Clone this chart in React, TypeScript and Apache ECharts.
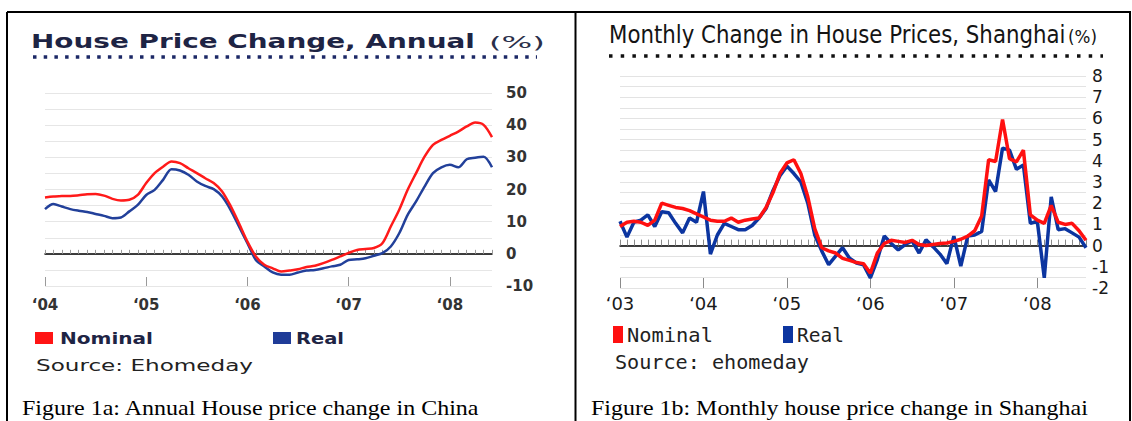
import React, { useEffect, useRef } from "react";
import * as echarts from "echarts";

// ---------- Figure 1a: annual house price change in China (%) ----------
const annualTitle = "House Price Change, Annual";
const annualStartYear = 2004;
const annualNominal = [
  17.5, 17.8, 18.0, 18.0, 18.2, 18.5, 18.6, 18.1, 17.1, 16.6, 16.8, 18.3,
  22.0, 25.1, 27.1, 28.7, 28.2, 26.6, 25.1, 23.5, 22.0, 19.4, 14.9, 9.5,
  3.8, -0.8, -3.4, -4.5, -5.5, -5.2, -4.8, -4.1, -3.7, -2.9, -1.9, -0.8,
  0.3, 1.2, 1.5, 1.8, 3.3, 8.5, 13.7, 19.9, 25.1, 30.2, 33.9, 35.4,
  36.7, 38.0, 39.6, 40.8, 40.1, 36.3,
];
const annualReal = [
  13.9, 15.5, 14.7, 13.9, 13.4, 13.0, 12.4, 11.8, 11.1, 11.3, 13.2, 15.2,
  18.3, 19.9, 23.0, 26.3, 25.9, 24.6, 22.5, 21.1, 20.1, 17.8, 13.7, 8.5,
  3.3, -1.9, -3.9, -5.8, -6.5, -6.5, -5.8, -5.2, -5.0, -4.5, -3.9, -3.4,
  -1.9, -1.7, -1.4, -0.6, 0.2, 2.3, 6.4, 12.1, 16.3, 20.9, 25.1, 26.9,
  27.7, 26.9, 29.4, 29.9, 30.2, 26.9,
];

// ---------- Figure 1b: monthly house price change in Shanghai (%) ----------
const monthlyTitle = "Monthly Change in House Prices, Shanghai";
const monthlyStartYear = 2003;
const monthlyNominal = [
  0.9, 1.1, 1.15, 1.1, 0.95, 1.2, 2.0, 1.9, 1.8, 1.75, 1.65, 1.5,
  1.35, 1.2, 1.15, 1.15, 1.3, 1.1, 1.2, 1.25, 1.3, 1.8, 2.5, 3.4,
  3.9, 4.05, 3.4, 2.3, 0.8, -0.1, -0.25, -0.35, -0.6, -0.7, -0.8, -0.85,
  -1.3, -0.35, 0.1, 0.25, 0.2, 0.15, 0.25, 0.05, 0.0, 0.05, 0.1, 0.12,
  0.2, 0.3, 0.45, 0.7, 1.4, 4.05, 3.97, 5.95, 4.1, 3.95, 4.5, 1.45,
  1.2, 1.05, 1.9, 1.1, 1.0, 1.05, 0.7, 0.25,
];
const monthlyReal = [
  1.15, 0.4, 1.1, 1.2, 1.45, 0.9, 1.6, 1.55, 1.05, 0.6, 1.3, 1.1,
  2.55, -0.4, 0.5, 1.05, 0.9, 0.75, 0.75, 0.95, 1.3, 1.75, 2.6, 3.3,
  3.75, 3.4, 3.0, 2.0, 0.5, -0.25, -0.9, -0.5, -0.1, -0.6, -0.82, -0.9,
  -1.52, -0.66, 0.45, 0.1, -0.2, 0.05, 0.22, -0.35, 0.27, -0.05, -0.4, -0.85,
  0.45, -0.97, 0.45, 0.5, 0.67, 3.1, 2.55, 4.6, 4.5, 3.6, 3.8, 1.05,
  1.15, -1.52, 2.3, 0.75, 0.8, 0.6, 0.4, -0.1,
];

const seriesNames = ["Nominal", "Real"];
const sources = ["Source: Ehomeday", "Source: ehomeday"];
const captions = [
  "Figure 1a: Annual House price change in China",
  "Figure 1b: Monthly house price change in Shanghai",
];

const MONTHS = ["Jan", "Feb", "Mar", "Apr", "May", "Jun", "Jul", "Aug", "Sep", "Oct", "Nov", "Dec"];

function makeMonths(startYear: number, count: number): string[] {
  const out: string[] = [];
  for (let i = 0; i < count; i++) {
    out.push(`${MONTHS[i % 12]} ${startYear + Math.floor(i / 12)}`);
  }
  return out;
}

const yearLabel = (v: string) => (v.startsWith("Jan") ? "\u2018" + v.slice(-2) : "");

let measureCtx: CanvasRenderingContext2D | null = null;
function fitText(text: string, x: number, y: number, width: number, font: string, fill: string) {
  if (!measureCtx) measureCtx = document.createElement("canvas").getContext("2d");
  let sx = 1;
  if (measureCtx) {
    measureCtx.font = font;
    const w = measureCtx.measureText(text).width;
    if (w > 0) sx = width / w;
  }
  return {
    type: "text",
    x,
    y,
    scaleX: sx,
    silent: true,
    style: { text, font, fill, textAlign: "left", textVerticalAlign: "middle" },
  };
}

function xAxesFor(
  gridIndex: number,
  cats: string[],
  minorLen: number,
  majorLen: number,
  tickColor: string,
  label: any
) {
  return [
    {
      type: "category",
      gridIndex,
      data: cats,
      boundaryGap: false,
      position: "bottom",
      axisLine: { onZero: true, lineStyle: { color: "#000", width: 1.5 } },
      axisTick: { show: true, inside: true, length: minorLen, interval: 0, lineStyle: { color: tickColor, width: 1 } },
      axisLabel: { show: false },
      splitLine: { show: false },
      z: 3,
    },
    {
      type: "category",
      gridIndex,
      data: cats,
      boundaryGap: false,
      position: "bottom",
      axisLine: { show: false, onZero: true },
      axisTick: {
        show: true,
        inside: true,
        length: majorLen,
        interval: (i: number) => i % 12 === 0,
        lineStyle: { color: tickColor, width: 1 },
      },
      axisLabel: { show: false },
      splitLine: { show: false },
    },
    {
      type: "category",
      gridIndex,
      data: cats,
      boundaryGap: false,
      position: "bottom",
      axisLine: { show: false, onZero: false },
      axisTick: { show: false },
      axisLabel: { interval: (i: number) => i % 12 === 0, formatter: yearLabel, ...label },
      splitLine: { show: false },
    },
  ];
}

function buildOption() {
  const annualCats = makeMonths(annualStartYear, annualNominal.length);
  const monthlyCats = makeMonths(monthlyStartYear, monthlyNominal.length);

  const graphics: any[] = [
    // table borders
    { type: "line", silent: true, shape: { x1: 7, y1: 12, x2: 1131, y2: 12 }, style: { stroke: "#000", lineWidth: 2 } },
    { type: "line", silent: true, shape: { x1: 7, y1: 12, x2: 7, y2: 421 }, style: { stroke: "#000", lineWidth: 2 } },
    { type: "line", silent: true, shape: { x1: 575.5, y1: 12, x2: 575.5, y2: 421 }, style: { stroke: "#000", lineWidth: 2 } },
    { type: "line", silent: true, shape: { x1: 1130, y1: 12, x2: 1130, y2: 421 }, style: { stroke: "#000", lineWidth: 2 } },

    // left title
    fitText(annualTitle, 31, 41, 444, 'bold 20px "DejaVu Sans"', "#1e2444"),
    fitText("(%)", 489, 43, 56, '15px "DejaVu Sans"', "#2a2f4a"),
    {
      type: "line",
      silent: true,
      shape: { x1: 33, y1: 57, x2: 537, y2: 57 },
      style: { stroke: "#1c2866", lineWidth: 3.5, lineDash: [3.5, 7.2] },
    },
    // right title
    fitText(monthlyTitle, 609, 34, 457, '25px "DejaVu Sans"', "#141414"),
    fitText("(%)", 1068, 37, 29, '17px "DejaVu Sans"', "#141414"),
    {
      type: "line",
      silent: true,
      shape: { x1: 609, y1: 56, x2: 1103, y2: 56 },
      style: { stroke: "#111", lineWidth: 3.5, lineDash: [3.5, 8.2] },
    },

    // left legend + source
    { type: "rect", silent: true, shape: { x: 35, y: 332, width: 18, height: 12 }, style: { fill: "#ff1414" } },
    fitText(seriesNames[0], 60, 339, 93, 'bold 15px "DejaVu Sans"', "#1e2444"),
    { type: "rect", silent: true, shape: { x: 273, y: 332, width: 18, height: 12 }, style: { fill: "#1f3c98" } },
    fitText(seriesNames[1], 296, 339, 48, 'bold 15px "DejaVu Sans"', "#1e2444"),
    fitText(sources[0], 36, 366, 217, '15px "DejaVu Sans"', "#222"),

    // right legend + source
    { type: "rect", silent: true, shape: { x: 613, y: 326, width: 10, height: 17 }, style: { fill: "#ff1010" } },
    fitText(seriesNames[0], 627, 335, 86, '20px "DejaVu Sans Mono"', "#222"),
    { type: "rect", silent: true, shape: { x: 783, y: 326, width: 10, height: 17 }, style: { fill: "#0c35a0" } },
    fitText(seriesNames[1], 797, 335, 47, '20px "DejaVu Sans Mono"', "#222"),
    fitText(sources[1], 615, 362, 194, '20px "DejaVu Sans Mono"', "#222"),

    // captions
    fitText(captions[0], 22, 408, 458, '21px "Liberation Serif"', "#000"),
    fitText(captions[1], 591, 408, 497, '21px "Liberation Serif"', "#000"),
  ];

  return {
    animation: false,
    backgroundColor: "#fff",
    grid: [
      { left: 45, top: 93, width: 447, height: 193, containLabel: false },
      { left: 620, top: 76, width: 466, height: 212, containLabel: false },
    ],
    xAxis: [
      ...xAxesFor(0, annualCats, 4, 9, "#9a9a9a", {
        margin: 11,
        color: "#333",
        fontFamily: "DejaVu Sans",
        fontWeight: "bold",
        fontSize: 15,
      }),
      ...xAxesFor(1, monthlyCats, 6, 10, "#8a8a8a", {
        margin: 6,
        color: "#1a1a1a",
        fontFamily: "DejaVu Sans",
        fontSize: 18,
      }),
    ],
    yAxis: [
      {
        type: "value",
        gridIndex: 0,
        position: "right",
        min: -10,
        max: 50,
        interval: 5,
        axisLine: { show: false },
        axisTick: { show: false },
        splitLine: { show: true, lineStyle: { color: "#e6e6e6", width: 1 } },
        axisLabel: {
          formatter: (v: number) => (v % 10 === 0 ? String(v) : ""),
          margin: 14,
          color: "#333",
          fontFamily: "DejaVu Sans",
          fontWeight: "bold",
          fontSize: 15,
        },
      },
      {
        type: "value",
        gridIndex: 1,
        position: "right",
        min: -2,
        max: 8,
        interval: 0.5,
        axisLine: { show: false },
        axisTick: { show: false },
        splitLine: { show: true, lineStyle: { color: "#e3e3e3", width: 1 } },
        axisLabel: {
          formatter: (v: number) => (Number.isInteger(v) ? String(v) : ""),
          margin: 6,
          color: "#1a1a1a",
          fontFamily: "DejaVu Sans",
          fontSize: 17,
        },
      },
    ],
    series: [
      {
        name: seriesNames[1],
        type: "line",
        xAxisIndex: 0,
        yAxisIndex: 0,
        data: annualReal,
        symbol: "none",
        smooth: 0.3,
        lineStyle: { color: "#22409a", width: 2.5 },
        z: 4,
      },
      {
        name: seriesNames[0],
        type: "line",
        xAxisIndex: 0,
        yAxisIndex: 0,
        data: annualNominal,
        symbol: "none",
        smooth: 0.3,
        lineStyle: { color: "#ff1a1a", width: 2.5 },
        z: 5,
      },
      {
        name: seriesNames[1],
        type: "line",
        xAxisIndex: 3,
        yAxisIndex: 1,
        data: monthlyReal,
        symbol: "none",
        lineStyle: { color: "#0c35a0", width: 3.5 },
        z: 4,
      },
      {
        name: seriesNames[0],
        type: "line",
        xAxisIndex: 3,
        yAxisIndex: 1,
        data: monthlyNominal,
        symbol: "none",
        lineStyle: { color: "#ff1010", width: 3.5 },
        z: 5,
      },
    ],
    graphic: graphics,
  };
}

export default function App() {
  const ref = useRef<HTMLDivElement>(null);
  useEffect(() => {
    if (!ref.current) return;
    const chart = echarts.init(ref.current, null, { renderer: "svg" });
    chart.setOption(buildOption() as any);
    return () => chart.dispose();
  }, []);
  return (
    <div
      ref={ref}
      style={{ position: "absolute", left: 0, top: 0, width: 1132, height: 421, background: "#fff" }}
    />
  );
}
